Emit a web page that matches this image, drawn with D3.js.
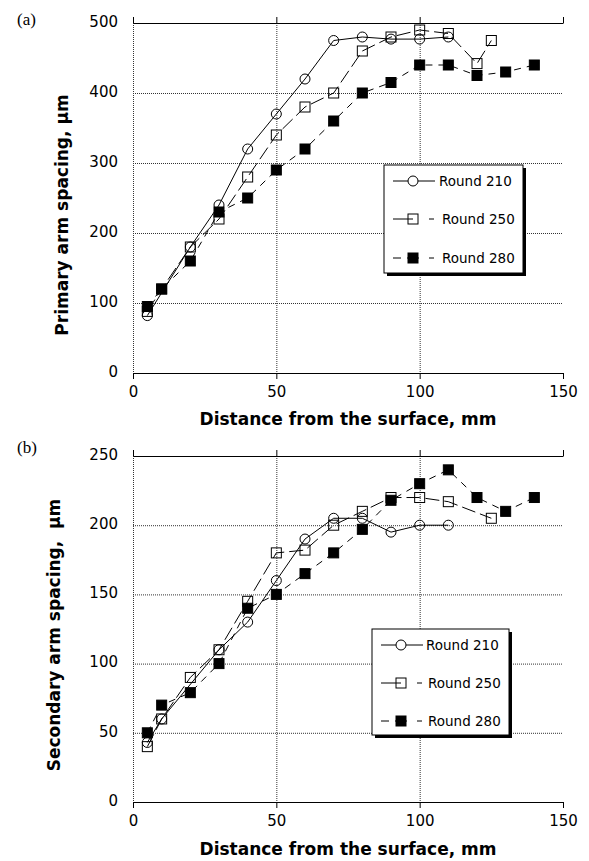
<!DOCTYPE html>
<html><head><meta charset="utf-8">
<script src="https://cdn.jsdelivr.net/npm/d3@7"></script>
<style>
html,body{margin:0;padding:0;background:#fff;}
svg{display:block;}
text{fill:#000;}
</style></head>
<body>
<script>
// ---------- data ----------
const xTicks = [0, 50, 100, 150];
const seriesNames = ["Round 210", "Round 250", "Round 280"];

// panel (a) primary arm spacing
const aYTicks = [0, 100, 200, 300, 400, 500];
const a210X = [5, 20, 30, 40, 50, 60, 70, 80, 90, 100, 110];
const a210Y = [82, 180, 240, 320, 370, 420, 475, 480, 477, 477, 480];
const a250X = [5, 10, 20, 30, 40, 50, 60, 70, 80, 90, 100, 110, 120, 125];
const a250Y = [88, 120, 180, 220, 280, 340, 380, 400, 460, 480, 490, 485, 442, 475];
const a280X = [5, 10, 20, 30, 40, 50, 60, 70, 80, 90, 100, 110, 120, 130, 140];
const a280Y = [95, 120, 160, 230, 250, 290, 320, 360, 400, 415, 440, 440, 425, 430, 440];

// panel (b) secondary arm spacing
const bYTicks = [0, 50, 100, 150, 200, 250];
const b210X = [5, 10, 30, 40, 50, 60, 70, 80, 90, 100, 110];
const b210Y = [43, 60, 110, 130, 160, 190, 205, 205, 195, 200, 200];
const b250X = [5, 10, 20, 30, 40, 50, 60, 70, 80, 90, 100, 110, 125];
const b250Y = [40, 60, 90, 110, 145, 180, 182, 200, 210, 220, 220, 217, 205];
const b280X = [5, 10, 20, 30, 40, 50, 60, 70, 80, 90, 100, 110, 120, 130, 140];
const b280Y = [50, 70, 79, 100, 140, 150, 165, 180, 197, 218, 230, 240, 220, 210, 220];

// ---------- drawing ----------
const W = 589, H = 861;
const svg = d3.select("body").append("svg").attr("width", W).attr("height", H);
const FONT = "'DejaVu Sans', Verdana, sans-serif";

const styles = [
  {marker: "circle", fill: "none", dash: null},
  {marker: "square", fill: "none", dash: "14,5"},
  {marker: "square", fill: "#000", dash: "7,6"}
];

function zip(xs, ys) { return xs.map((v, i) => ({x: v, y: ys[i]})); }

function panel(cfg) {
  const x = d3.scaleLinear().domain([0, 150]).range([133, 563]);
  const y = d3.scaleLinear().domain([0, cfg.yMax]).range([cfg.y0, cfg.y1]);
  const g = svg.append("g");

  // dotted grid
  const inner = cfg.yTicks.filter(v => v > 0 && v < cfg.yMax);
  g.selectAll(".hg").data(inner).enter().append("line")
    .attr("x1", x(0)).attr("x2", x(150))
    .attr("y1", d => y(d) + 0.5).attr("y2", d => y(d) + 0.5)
    .attr("stroke", "#333").attr("stroke-width", 1).attr("stroke-dasharray", "1,1");
  g.selectAll(".vg").data(xTicks.filter(v => v < 150)).enter().append("line")
    .attr("x1", d => x(d) + 0.5).attr("x2", d => x(d) + 0.5)
    .attr("y1", y(cfg.yMax)).attr("y2", y(0))
    .attr("stroke", "#333").attr("stroke-width", 1).attr("stroke-dasharray", "1,1");

  // top axis (ticks up, no labels)
  const top = g.append("g").attr("transform", `translate(0,${y(cfg.yMax)})`)
    .call(d3.axisTop(x).tickValues(xTicks).tickSize(6).tickSizeOuter(0).tickFormat(""));
  // bottom axis
  const bot = g.append("g").attr("transform", `translate(0,${y(0)})`)
    .call(d3.axisBottom(x).tickValues(xTicks).tickSize(6).tickSizeOuter(0).tickPadding(7));
  [top, bot].forEach(a => {
    a.select(".domain").attr("stroke", "#000").attr("stroke-width", 1.2);
    a.selectAll(".tick line").attr("stroke", "#000");
  });
  bot.selectAll("text").attr("font-family", FONT).attr("font-size", 15).attr("fill", "#000");

  // left labels
  const left = g.append("g").attr("transform", `translate(${x(0)},0)`)
    .call(d3.axisLeft(y).tickValues(cfg.yTicks).tickSize(0).tickPadding(15));
  left.select(".domain").remove();
  left.selectAll("text").attr("font-family", FONT).attr("font-size", 15)
    .attr("fill", "#000").attr("dy", "0.22em");

  // series
  const line = d3.line().x(d => x(d.x)).y(d => y(d.y));
  cfg.series.forEach((s, i) => {
    const st = styles[i];
    const pts = zip(s[0], s[1]);
    g.append("path").attr("d", line(pts)).attr("fill", "none")
      .attr("stroke", "#000").attr("stroke-width", 1)
      .attr("stroke-dasharray", st.dash);
    drawMarkers(g, pts.map(p => [x(p.x), y(p.y)]), st);
  });

  // legend
  const L = cfg.legend;
  g.append("rect").attr("x", L.x + 3).attr("y", L.y + 3).attr("width", L.w).attr("height", L.h).attr("fill", "#000");
  g.append("rect").attr("x", L.x).attr("y", L.y).attr("width", L.w).attr("height", L.h)
    .attr("fill", "#fff").attr("stroke", "#000").attr("stroke-width", 1);
  const legDash = [null, "20,16,5,100", "8,6,12,10,5,100"];
  seriesNames.forEach((name, i) => {
    const ry = L.y + L.rows[i];
    g.append("line").attr("x1", L.x + 9).attr("x2", i === 0 ? L.x + 51 : L.x + 50)
      .attr("y1", ry).attr("y2", ry).attr("stroke", "#000").attr("stroke-width", 1)
      .attr("stroke-dasharray", legDash[i]);
    const st = Object.assign({}, styles[i]);
    if (i === 0) st.fill = "#fff";
    drawMarkers(g, [[L.x + 29, ry]], st);
    g.append("text").attr("x", L.x + (i === 0 ? L.tx0 : L.tx1)).attr("y", ry + 5)
      .attr("font-family", FONT).attr("font-size", 13.5).text(name);
  });

  // titles
  g.append("text").attr("x", 348).attr("y", cfg.xTitleY).attr("text-anchor", "middle")
    .attr("font-family", FONT).attr("font-weight", "bold").attr("font-size", 17)
    .text("Distance from the surface, mm");
  g.append("text").attr("transform", `translate(${cfg.yTitleX},${cfg.yTitleC}) rotate(-90)`)
    .attr("text-anchor", "middle").style("white-space", "pre")
    .attr("font-family", FONT).attr("font-weight", "bold").attr("font-size", 17)
    .text(cfg.yTitle);
  g.append("text").attr("x", 17).attr("y", cfg.labelY)
    .attr("font-family", "'Liberation Serif', 'Times New Roman', serif").attr("font-size", 17)
    .text(cfg.label);
}

function drawMarkers(g, pts, st) {
  if (st.marker === "circle") {
    g.selectAll(null).data(pts).enter().append("circle")
      .attr("cx", d => d[0]).attr("cy", d => d[1]).attr("r", 5)
      .attr("fill", st.fill).attr("stroke", "#000").attr("stroke-width", 1);
  } else {
    const s = 10;
    g.selectAll(null).data(pts).enter().append("rect")
      .attr("x", d => d[0] - s / 2).attr("y", d => d[1] - s / 2)
      .attr("width", s).attr("height", s)
      .attr("fill", st.fill).attr("stroke", "#000").attr("stroke-width", 1);
  }
}

panel({
  yMax: 500, y0: 373, y1: 23, yTicks: aYTicks,
  series: [[a210X, a210Y], [a250X, a250Y], [a280X, a280Y]],
  legend: {x: 384, y: 165, w: 139, h: 108, rows: [16, 54, 93], tx0: 55, tx1: 58},
  xTitleY: 425, yTitleX: 68, yTitleC: 215,
  yTitle: "Primary arm spacing, µm", label: "(a)", labelY: 25
});
panel({
  yMax: 250, y0: 802, y1: 456, yTicks: bYTicks,
  series: [[b210X, b210Y], [b250X, b250Y], [b280X, b280Y]],
  legend: {x: 372, y: 629, w: 137, h: 106, rows: [16, 54, 92], tx0: 54, tx1: 56},
  xTitleY: 855, yTitleX: 60, yTitleC: 635,
  yTitle: "Secondary arm spacing,  µm", label: "(b)", labelY: 453
});
</script>
</body></html>
